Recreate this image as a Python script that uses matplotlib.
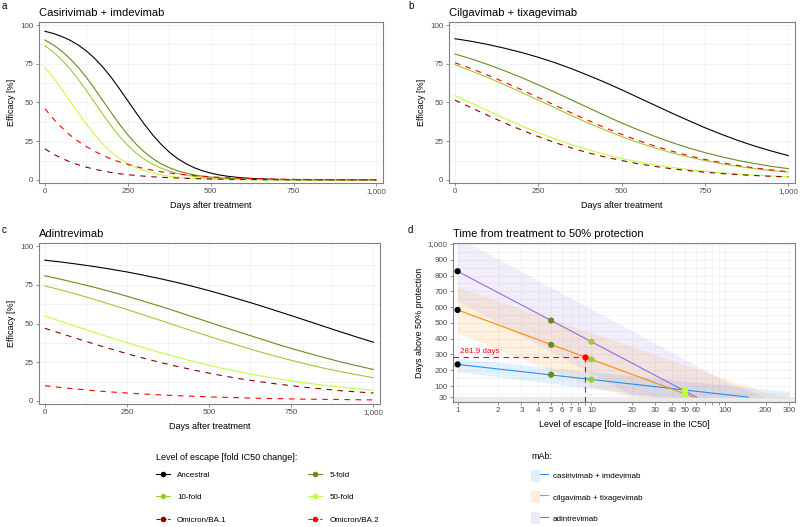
import numpy as np
import matplotlib
matplotlib.use("Agg")
import matplotlib.pyplot as plt
from matplotlib.lines import Line2D
from matplotlib.patches import Patch
from matplotlib.legend_handler import HandlerTuple
from matplotlib.ticker import MultipleLocator, FixedLocator, FuncFormatter, NullFormatter

plt.rcParams['font.family'] = ['Liberation Sans', 'DejaVu Sans']

# --- data: efficacy curves (panels a-c) ---
# panel a is steep, so it is read every 25 days; b and c every 50 days
days_a = [0, 25, 50, 75, 100, 125, 150, 175, 200, 225, 250, 275, 300, 325, 350,
          375, 400, 425, 450, 475, 500, 525, 550, 575, 600, 625, 650, 675, 700,
          725, 750, 775, 800, 825, 850, 875, 900, 925, 950, 975, 1000]
days = [0, 50, 100, 150, 200, 250, 300, 350, 400, 450, 500,
        550, 600, 650, 700, 750, 800, 850, 900, 950, 1000]

cas_anc = [96.0, 94.6, 92.7, 90.3, 87.2, 83.3, 78.5, 72.8, 66.2, 58.8, 51.1, 43.4, 35.9, 29.1,
           23.1, 18.0, 13.8, 10.5, 7.9, 5.9, 4.4, 3.25, 2.4, 1.77, 1.3, 0.95, 0.7, 0.51, 0.38,
           0.28, 0.2, 0.15, 0.11, 0.08, 0.06, 0.04, 0.03, 0.02, 0.02, 0.01, 0.01]
cas_5 = [90.3, 87.2, 83.3, 78.5, 72.8, 66.2, 58.8, 51.1, 43.4, 35.9, 29.1, 23.1, 18.0, 13.8,
         10.5, 7.9, 5.9, 4.4, 3.25, 2.4, 1.77, 1.3, 0.95, 0.7, 0.51, 0.38, 0.28, 0.2, 0.15,
         0.11, 0.08, 0.06, 0.04, 0.03, 0.02, 0.02, 0.01, 0.01, 0.01, 0.0, 0.0]
cas_10 = [86.7, 82.7, 77.7, 71.9, 65.1, 57.8, 50.0, 42.2, 34.9, 28.1, 22.3, 17.3, 13.3, 10.1,
          7.6, 5.7, 4.2, 3.1, 2.3, 1.7, 1.24, 0.91, 0.67, 0.49, 0.36, 0.26, 0.19, 0.14, 0.1,
          0.08, 0.06, 0.04, 0.03, 0.02, 0.02, 0.01, 0.01, 0.01, 0.0, 0.0, 0.0]
cas_50 = [72.6, 66.2, 58.8, 51.1, 43.4, 35.9, 29.1, 23.1, 18.0, 13.8, 10.5, 7.9, 5.9, 4.4,
          3.25, 2.4, 1.77, 1.3, 0.95, 0.7, 0.51, 0.38, 0.28, 0.2, 0.15, 0.11, 0.08, 0.06, 0.04,
          0.03, 0.02, 0.02, 0.01, 0.01, 0.01, 0.0, 0.0, 0.0, 0.0, 0.0, 0.0]
cas_ba1 = [20.0, 16.7, 14.0, 11.7, 9.8, 8.2, 6.9, 5.8, 4.8, 4.0, 3.4, 2.85, 2.4, 2.0, 1.7,
           1.45, 1.2, 1.0, 0.85, 0.72, 0.6, 0.5, 0.42, 0.36, 0.3, 0.25, 0.2, 0.17, 0.14, 0.12,
           0.1, 0.085, 0.07, 0.06, 0.05, 0.04, 0.03, 0.03, 0.02, 0.02, 0.02]
cas_ba2 = [46.0, 39.5, 34.0, 29.0, 25.0, 21.5, 18.5, 15.8, 13.5, 11.6, 10.0, 8.6, 7.3, 6.2,
           5.3, 4.5, 3.8, 3.3, 2.8, 2.4, 2.0, 1.7, 1.4, 1.2, 1.0, 0.85, 0.7, 0.6, 0.5, 0.42,
           0.35, 0.3, 0.25, 0.21, 0.17, 0.14, 0.12, 0.1, 0.08, 0.07, 0.06]

cil_anc = [91.2, 89.5, 87.4, 85.0, 82.3, 79.2, 75.7, 71.8, 67.5, 63.0, 58.2, 53.2, 48.2, 43.2, 38.4, 33.7, 29.4, 25.4, 21.8, 18.6, 15.7]
cil_5 = [81.3, 78.1, 74.4, 70.4, 66.1, 61.4, 56.6, 51.6, 46.6, 41.6, 36.8, 32.3, 28.1, 24.2, 20.7, 17.6, 14.9, 12.5, 10.5, 8.7, 7.3]
cil_10 = [74.4, 70.3, 66.0, 61.3, 56.5, 51.5, 46.5, 41.5, 36.7, 32.2, 28.0, 24.1, 20.6, 17.5, 14.8, 12.5, 10.4, 8.7, 7.2, 6.0, 5.0]
cil_50 = [54.5, 49.5, 44.5, 39.6, 34.9, 30.5, 26.4, 22.7, 19.4, 16.4, 13.8, 11.6, 9.7, 8.1, 6.7, 5.6, 4.6, 3.8, 3.1, 2.6, 2.1]
cil_ba1 = [51.5, 46.5, 41.5, 36.7, 32.2, 28.0, 24.1, 20.6, 17.5, 14.8, 12.5, 10.4, 8.7, 7.2, 6.0, 5.0, 4.1, 3.4, 2.8, 2.3, 1.9]
cil_ba2 = [75.7, 71.8, 67.5, 63.0, 58.2, 53.2, 48.2, 43.2, 38.4, 33.7, 29.4, 25.4, 21.8, 18.6, 15.7, 13.2, 11.1, 9.3, 7.7, 6.4, 5.3]

adi_anc = [90.9, 89.7, 88.3, 86.8, 85.1, 83.3, 81.2, 79.0, 76.6, 74.0, 71.2, 68.2, 65.1, 61.9, 58.5, 55.1, 51.6, 48.1, 44.6, 41.2, 37.9]
adi_5 = [80.8, 78.5, 76.0, 73.4, 70.6, 67.6, 64.4, 61.2, 57.8, 54.3, 50.8, 47.3, 43.9, 40.5, 37.1, 33.9, 30.9, 28.0, 25.2, 22.7, 20.3]
adi_10 = [74.3, 71.6, 68.7, 65.6, 62.3, 59.0, 55.6, 52.1, 48.6, 45.1, 41.7, 38.3, 35.1, 31.9, 29.0, 26.2, 23.6, 21.1, 18.9, 16.9, 15.0]
adi_50 = [54.8, 51.3, 47.8, 44.3, 40.9, 37.6, 34.4, 31.3, 28.4, 25.6, 23.0, 20.6, 18.4, 16.4, 14.6, 12.9, 11.4, 10.1, 8.9, 7.8, 6.9]
adi_ba1 = [46.9, 43.5, 40.1, 36.8, 33.6, 30.5, 27.6, 24.9, 22.4, 20.1, 17.9, 15.9, 14.1, 12.5, 11.1, 9.8, 8.6, 7.6, 6.6, 5.8, 5.1]
adi_ba2 = [9.8, 8.6, 7.6, 6.6, 5.8, 5.1, 4.5, 3.9, 3.4, 3.0, 2.6, 2.3, 2.0, 1.7, 1.5, 1.3, 1.1, 1.0, 0.9, 0.75, 0.65]

variants = ["Ancestral", "5-fold", "10-fold", "50-fold", "Omicron/BA.1", "Omicron/BA.2"]
var_colors = ["black", "#698B22", "#9ACD32", "#C0FF3E", "#8B0000", "red"]
var_dashed = [False, False, False, False, True, True]

# --- data: panel d (days above 50% protection vs fold escape) ---
fold = [1, 5, 10, 50]
cas_days = [237, 172, 141, 75]
cil_days = [582, 361, 269, 47]
adi_days = [827, 515, 381, 68]
# fitted lines (start, end where they reach 30 days)
cas_line_x, cas_line_y = [1, 148], [237, 30]
cil_line_x, cil_line_y = [1, 58], [582, 30]
adi_line_x, adi_line_y = [1, 61], [827, 30]
# confidence ribbons
band_x = [1, 2, 5, 10, 20, 30, 50, 100, 200, 300]
cas_lo = [191, 159, 117, 85, 53, 35, 30, 30, 30, 30]
cas_hi = [276, 250, 216, 191, 165, 150, 131, 106, 80, 65]
cil_lo = [435, 334, 200, 99, 30, 30, 30, 30, 30, 30]
cil_hi = [727, 640, 524, 437, 349, 298, 234, 147, 59, 30]
adi_lo = [640, 501, 318, 179, 41, 30, 30, 30, 30, 30]
adi_hi = [1043, 906, 724, 587, 450, 370, 268, 131, 30, 30]
ba2_fold, ba2_days = 9.0, 281.9

mabs = ["casirivimab + imdevimab", "cilgavimab + tixagevimab", "adintrevimab"]
mab_colors = ["#1E90FF", "#FF8C00", "#9370DB"]

fig = plt.figure(figsize=(8, 5.27), dpi=100)
W, H = 800, 527


def box(x0, y0, x1, y1):
    return [x0 / W, 1 - y1 / H, (x1 - x0) / W, (y1 - y0) / H]


def style(ax):
    for s in ax.spines.values():
        s.set_color("#808080")
        s.set_linewidth(0.8)
    ax.tick_params(which="major", length=2.4, width=0.6, color="#808080",
                   labelsize=5.8, labelcolor="#4D4D4D", pad=1.5)
    ax.tick_params(which="minor", length=0)
    ax.grid(which="both", color="#EFEFEF", lw=0.5, zorder=0)
    ax.set_axisbelow(True)


def panel_letter(ax, letter, lx, above_px):
    ax.text(lx, ax.get_position().y1 + above_px / H, letter, transform=fig.transFigure,
            fontsize=7, va="center")


def efficacy_panel(ax, x, curves, title):
    for y, c, d in zip(curves, var_colors, var_dashed):
        ax.plot(x, y, color=c, lw=0.8, ls=(0, (5, 5)) if d else "-")
    ax.set_xlim(-18, 1020)
    ax.set_ylim(-2, 102)
    ax.set_xticks([0, 250, 500, 750, 1000])
    ax.set_xticklabels(["0", "250", "500", "750", "1,000"])
    ax.set_yticks([0, 25, 50, 75, 100])
    ax.xaxis.set_minor_locator(MultipleLocator(125))
    ax.yaxis.set_minor_locator(MultipleLocator(12.5))
    style(ax)
    ax.set_xlabel("Days after treatment", fontsize=6.5, labelpad=4)
    ax.set_ylabel("Efficacy [%]", fontsize=6.5, labelpad=3)
    ax.set_title(title, loc="left", fontsize=8, pad=4)


ax_a = fig.add_axes(box(39, 22, 383, 183))
efficacy_panel(ax_a, days_a, [cas_anc, cas_5, cas_10, cas_50, cas_ba1, cas_ba2],
               "Casirivimab + imdevimab")
panel_letter(ax_a, "a", 0.002, 16)
ax_b = fig.add_axes(box(449, 22, 795, 183))
efficacy_panel(ax_b, days, [cil_anc, cil_5, cil_10, cil_50, cil_ba1, cil_ba2],
               "Cilgavimab + tixagevimab")
panel_letter(ax_b, "b", 0.51, 16)
ax_c = fig.add_axes(box(39, 243, 380, 404))
efficacy_panel(ax_c, days, [adi_anc, adi_5, adi_10, adi_50, adi_ba1, adi_ba2],
               "Adintrevimab")
panel_letter(ax_c, "c", 0.002, 13)

# --- panel d ---
ax_d = fig.add_axes(box(453, 243, 795, 402))
ax_d.set_xscale("log")
ax_d.axhspan(0, 30, color="#EBEBEB", lw=0, zorder=1)
for lo, hi, c in zip([cas_lo, cil_lo, adi_lo], [cas_hi, cil_hi, adi_hi], mab_colors):
    ax_d.fill_between(band_x, lo, hi, color=c, alpha=0.12, lw=0, zorder=2)
for lx_, ly_, c in zip([cas_line_x, cil_line_x, adi_line_x],
                       [cas_line_y, cil_line_y, adi_line_y], mab_colors):
    ax_d.plot(lx_, ly_, color=c, lw=0.8, zorder=3)
for yv in [cas_days, cil_days, adi_days]:
    ax_d.scatter(fold, yv, c=var_colors[:4], s=20, lw=0, zorder=4)

xmin, xmax = 0.924, 332
ax_d.set_xlim(xmin, xmax)
ax_d.set_ylim(-1, 1006)
ax_d.plot([xmin, ba2_fold], [ba2_days, ba2_days], color="red", lw=0.8,
          ls=(0, (5, 4)), zorder=4)
ax_d.plot([ba2_fold, ba2_fold], [-1, ba2_days], color="red", lw=0.8,
          ls=(0, (5, 4)), zorder=4)
ax_d.scatter([ba2_fold], [ba2_days], c="red", s=20, lw=0, zorder=5)
ax_d.text(1.035, ba2_days + 12, f"{ba2_days} days", color="red", fontsize=5.8,
          va="bottom", ha="left")

xt = [1, 2, 3, 4, 5, 6, 7, 8, 9, 10, 20, 30, 40, 50, 60, 70, 80, 90, 100, 200, 300]
shown = {1, 2, 3, 4, 5, 6, 7, 8, 10, 20, 30, 40, 50, 60, 100, 200, 300}
ax_d.xaxis.set_major_locator(FixedLocator(xt))
ax_d.xaxis.set_major_formatter(FuncFormatter(lambda v, p: f"{v:g}" if round(v) in shown else ""))
ax_d.xaxis.set_minor_formatter(NullFormatter())
ax_d.xaxis.set_minor_locator(FixedLocator([]))
yt = [30, 100, 200, 300, 400, 500, 600, 700, 800, 900, 1000]
ax_d.set_yticks(yt)
ax_d.set_yticklabels([f"{v:,}" for v in yt])
ax_d.yaxis.set_minor_locator(FixedLocator([50, 150, 250, 350, 450, 550, 650, 750, 850, 950]))
style(ax_d)
ax_d.set_xlabel("Level of escape [fold\u2212increase in the IC50]", fontsize=6.5, labelpad=4)
ax_d.set_ylabel("Days above 50% protection", fontsize=6.5, labelpad=3)
ax_d.set_title("Time from treatment to 50% protection", loc="left", fontsize=8, pad=4)
panel_letter(ax_d, "d", 0.51, 13)

# --- legends ---
handles = []
for c, d in zip(var_colors, var_dashed):
    handles.append(Line2D([], [], color=c, lw=0.8, ls="--" if d else "-",
                          marker="o", markersize=4, markeredgewidth=0))
order = [0, 2, 4, 1, 3, 5]
fig.text(156 / W, 1 - 457 / H, "Level of escape [fold IC50 change]:", fontsize=6.5,
         va="center", ha="left")
leg1 = fig.legend([handles[i] for i in order], [variants[i] for i in order],
                  loc="upper left", bbox_to_anchor=(0.195, 1 - 471 / H), ncol=2,
                  frameon=False, fontsize=5.8, handlelength=1.7,
                  handletextpad=0.9, columnspacing=10.15,
                  labelspacing=1.85, borderpad=0, borderaxespad=0)

mh = [(Patch(facecolor=c, alpha=0.15, lw=0), Line2D([], [], color=c, lw=0.8)) for c in mab_colors]
leg2 = fig.legend(mh, mabs, loc="upper left", bbox_to_anchor=(0.664, 0.143),
                  frameon=False, fontsize=5.8, title="mAb:", title_fontsize=6.5,
                  alignment="left", handlelength=2.1, handleheight=1.9,
                  handletextpad=0.6, labelspacing=1.15, borderpad=0, borderaxespad=0,
                  handler_map={tuple: HandlerTuple(ndivide=None, pad=0)})

fig.savefig("out.png", dpi=100)
